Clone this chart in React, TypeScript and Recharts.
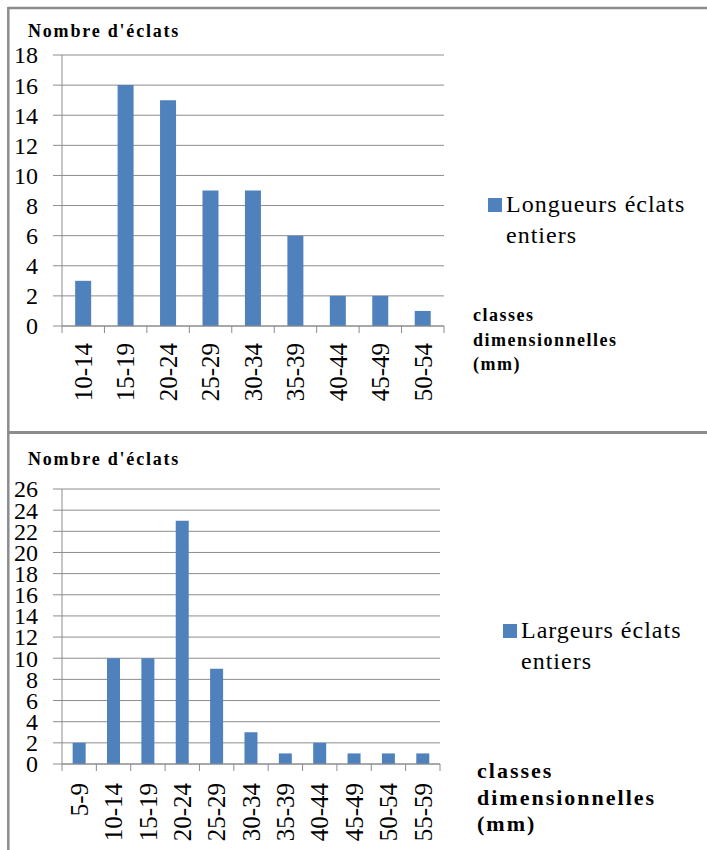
import React, { useEffect, useState } from 'react';
import { BarChart, Bar, XAxis, YAxis, CartesianGrid, Legend } from 'recharts';

// ---- data ----
const lengthClasses = ['10-14', '15-19', '20-24', '25-29', '30-34', '35-39', '40-44', '45-49', '50-54'];
const lengthCounts = [3, 16, 15, 9, 9, 6, 2, 2, 1];
const lengthTicks = [0, 2, 4, 6, 8, 10, 12, 14, 16, 18];

const widthClasses = ['5-9', '10-14', '15-19', '20-24', '25-29', '30-34', '35-39', '40-44', '45-49', '50-54', '55-59'];
const widthCounts = [2, 10, 10, 23, 9, 3, 1, 2, 1, 1, 1];
const widthTicks = [0, 2, 4, 6, 8, 10, 12, 14, 16, 18, 20, 22, 24, 26];

const topSeriesName = 'Longueurs éclats entiers';
const bottomSeriesName = 'Largeurs éclats entiers';
const yTitle = "Nombre d'éclats";
const xTitleLines = ['classes', 'dimensionnelles', '(mm)'];

const topData = lengthClasses.map((c, i) => ({ classe: c, n: lengthCounts[i] }));
const bottomData = widthClasses.map((c, i) => ({ classe: c, n: widthCounts[i] }));

// ---- styles ----
const SERIF = '"Liberation Serif", "Times New Roman", Tinos, "DejaVu Serif", "Noto Serif", FreeSerif';
const GRAY = '#8c8c8c';
const BAR = '#4F81BD';

const XTick = (props: any) => {
  const { x, y, payload, index, visibleTicksCount, gap, fontSize } = props;
  const half = payload && typeof payload.offset === 'number' ? payload.offset : 0;
  const axisY = y - gap;
  const isLast = index === visibleTicksCount - 1;
  return (
    <g>
      <line x1={x - half} x2={x - half} y1={axisY} y2={axisY + 7} stroke={GRAY} strokeWidth={1} />
      {isLast && <line x1={x + half} x2={x + half} y1={axisY} y2={axisY + 7} stroke={GRAY} strokeWidth={1} />}
      <text
        x={x}
        y={y}
        transform={`rotate(-90, ${x}, ${y})`}
        textAnchor="end"
        dy="0.35em"
        fontFamily={SERIF}
        fontSize={fontSize}
        fill="#000"
      >
        {payload.value}
      </text>
    </g>
  );
};

const YTick = (props: any) => {
  const { x, y, payload } = props;
  return (
    <text x={x} y={y} textAnchor="end" dy="0.35em" fontFamily={SERIF} fontSize={24} fill="#000">
      {payload.value}
    </text>
  );
};

const LegendBox = (props: any) => {
  const item = props.payload && props.payload[0];
  return (
    <div
      style={{
        display: 'flex',
        alignItems: 'flex-start',
        fontFamily: SERIF,
        fontSize: 24,
        lineHeight: '31px',
        letterSpacing: 1,
        color: '#000',
      }}
    >
      <div style={{ width: 14, height: 14, background: BAR, marginTop: 9, marginRight: 4, flex: 'none' }} />
      <div style={{ width: 195 }}>{item ? item.value : ''}</div>
    </div>
  );
};

export default function App() {
  const [ver, setVer] = useState(0);
  useEffect(() => {
    const timers = [150, 600, 1500].map((ms, i) => setTimeout(() => setVer(i + 1), ms));
    return () => timers.forEach(clearTimeout);
  }, []);

  return (
    <div
      style={{
        position: 'absolute',
        left: 0,
        top: 0,
        width: 707,
        height: 850,
        background: '#fff',
        overflow: 'hidden',
        fontFamily: SERIF,
      }}
    >
      <div key={ver} style={{ position: 'absolute', left: 0, top: 0, width: 707, height: 850 }}>
        {/* top chart */}
        <div style={{ position: 'absolute', left: 0, top: 0 }}>
          <BarChart
            width={707}
            height={430}
            data={topData}
            margin={{ top: 55, right: 263, bottom: 0, left: 0 }}
            barCategoryGap="31%"
          >
            <CartesianGrid vertical={false} stroke={GRAY} strokeWidth={1} />
            <XAxis
              dataKey="classe"
              interval={0}
              height={104}
              tickSize={0}
              tickMargin={17}
              tickLine={false}
              axisLine={{ stroke: GRAY }}
              tick={(p: any) => <XTick {...p} gap={17} fontSize={25} />}
            />
            <YAxis
              width={62}
              domain={[0, 18]}
              ticks={lengthTicks}
              interval={0}
              tickSize={9}
              tickMargin={15}
              axisLine={{ stroke: GRAY }}
              tickLine={{ stroke: GRAY }}
              tick={<YTick />}
            />
            <Legend
              layout="vertical"
              align="center"
              verticalAlign="middle"
              wrapperStyle={{ left: 488, top: 189, width: 215 }}
              content={<LegendBox />}
            />
            <Bar dataKey="n" name={topSeriesName} fill={BAR} isAnimationActive={false} />
          </BarChart>
        </div>

        {/* bottom chart */}
        <div style={{ position: 'absolute', left: 0, top: 432 }}>
          <BarChart
            width={707}
            height={418}
            data={bottomData}
            margin={{ top: 57, right: 267, bottom: 0, left: 0 }}
            barCategoryGap="31%"
          >
            <CartesianGrid vertical={false} stroke={GRAY} strokeWidth={1} />
            <XAxis
              dataKey="classe"
              interval={0}
              height={86}
              tickSize={0}
              tickMargin={19}
              tickLine={false}
              axisLine={{ stroke: GRAY }}
              tick={(p: any) => <XTick {...p} gap={19} fontSize={25} />}
            />
            <YAxis
              width={62}
              domain={[0, 26]}
              ticks={widthTicks}
              interval={0}
              tickSize={9}
              tickMargin={15}
              axisLine={{ stroke: GRAY }}
              tickLine={{ stroke: GRAY }}
              tick={<YTick />}
            />
            <Legend
              layout="vertical"
              align="center"
              verticalAlign="middle"
              wrapperStyle={{ left: 503, top: 183, width: 215 }}
              content={<LegendBox />}
            />
            <Bar dataKey="n" name={bottomSeriesName} fill={BAR} isAnimationActive={false} />
          </BarChart>
        </div>

        {/* frame and titles */}
        <svg
          width={707}
          height={850}
          style={{ position: 'absolute', left: 0, top: 0, pointerEvents: 'none' }}
        >
          <line x1={8} x2={707} y1={8} y2={8} stroke={GRAY} strokeWidth={2.5} />
          <line x1={8.3} x2={8.3} y1={7} y2={850} stroke={GRAY} strokeWidth={2.5} />
          <line x1={7} x2={707} y1={432.5} y2={432.5} stroke={GRAY} strokeWidth={3} />

          <text x={28} y={37} fontFamily={SERIF} fontWeight="bold" fontSize={18} letterSpacing={1.8} fill="#000">
            {yTitle}
          </text>
          <text x={28} y={465} fontFamily={SERIF} fontWeight="bold" fontSize={18} letterSpacing={1.8} fill="#000">
            {yTitle}
          </text>

          {xTitleLines.map((t, i) => (
            <text
              key={'t' + i}
              x={473}
              y={321 + i * 24.5}
              fontFamily={SERIF}
              fontWeight="bold"
              fontSize={18}
              letterSpacing={1.5}
              fill="#000"
            >
              {t}
            </text>
          ))}
          {xTitleLines.map((t, i) => (
            <text
              key={'b' + i}
              x={477}
              y={778 + i * 26.5}
              fontFamily={SERIF}
              fontWeight="bold"
              fontSize={22}
              letterSpacing={2}
              fill="#000"
            >
              {t}
            </text>
          ))}
        </svg>
      </div>
    </div>
  );
}
